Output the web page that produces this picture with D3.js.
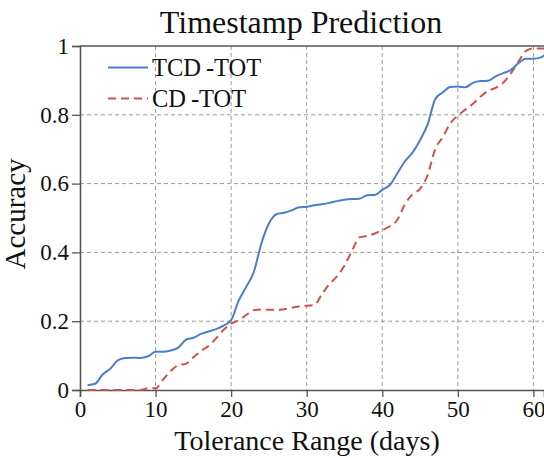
<!DOCTYPE html>
<html>
<head>
<meta charset="utf-8">
<script src="https://cdn.jsdelivr.net/npm/d3@7"></script>
<style>
  body { margin: 0; background: #fff; }
</style>
</head>
<body>
<svg id="chart" width="544" height="458"></svg>
<script>
// tolerance range in days
let days = d3.range(1, 63);

// TCD-TOT accuracy, day 1..62
let tcdTot = [0.014, 0.018, 0.045, 0.062, 0.086, 0.093, 0.094, 0.093, 0.098, 0.111,
  0.111, 0.115, 0.123, 0.146, 0.152, 0.163, 0.170, 0.177, 0.187, 0.203,
  0.260, 0.300, 0.343, 0.426, 0.484, 0.511, 0.515, 0.522, 0.531, 0.533,
  0.537, 0.540, 0.544, 0.549, 0.553, 0.555, 0.556, 0.566, 0.567, 0.582,
  0.596, 0.630, 0.665, 0.690, 0.726, 0.772, 0.845, 0.865, 0.881, 0.882,
  0.880, 0.893, 0.898, 0.899, 0.912, 0.921, 0.930, 0.950, 0.963, 0.963,
  0.967, 0.985];

// CD-TOT accuracy, day 1..62
let cdTot = [0, 0, 0, 0, 0, 0, 0, 0, 0.005, 0.005,
  0.030, 0.055, 0.072, 0.076, 0.095, 0.113, 0.128, 0.150, 0.175, 0.193,
  0.203, 0.218, 0.232, 0.234, 0.233, 0.233, 0.235, 0.239, 0.243, 0.245,
  0.247, 0.278, 0.308, 0.330, 0.362, 0.405, 0.444, 0.448, 0.455, 0.465,
  0.476, 0.495, 0.540, 0.569, 0.585, 0.625, 0.700, 0.735, 0.775, 0.798,
  0.815, 0.832, 0.853, 0.870, 0.878, 0.893, 0.920, 0.954, 0.985, 0.993,
  0.993, 0.993];

let xTicks = [0, 10, 20, 30, 40, 50, 60];
let yTicks = [0, 0.2, 0.4, 0.6, 0.8, 1];

let serif = '"Liberation Serif"';

let svg = d3.select('#chart');

let mLeft = 80, mRight = 544, mTop = 46, mBottom = 390;

let x = d3.scaleLinear().domain([0, 61.4]).range([mLeft, mRight]);
let y = d3.scaleLinear().domain([0, 1]).range([mBottom, mTop]);

// grid
svg.append('g')
  .selectAll('line')
  .data(xTicks.filter(d => d > 0))
  .enter()
  .append('line')
  .attr('x1', d => x(d)).attr('x2', d => x(d))
  .attr('y1', mTop).attr('y2', mBottom)
  .attr('stroke', '#9a9a9a').attr('stroke-width', 1)
  .attr('stroke-dasharray', '4,3');

svg.append('g')
  .selectAll('line')
  .data(yTicks.filter(d => d > 0 && d < 1))
  .enter()
  .append('line')
  .attr('x1', mLeft).attr('x2', mRight)
  .attr('y1', d => y(d)).attr('y2', d => y(d))
  .attr('stroke', '#9a9a9a').attr('stroke-width', 1)
  .attr('stroke-dasharray', '4,3');

// axes
let xAxis = svg.append('g')
  .attr('transform', `translate(0,${mBottom})`)
  .call(d3.axisBottom(x).tickValues(xTicks).tickSize(7).tickPadding(4).tickFormat(d3.format('d')));

let yAxis = svg.append('g')
  .attr('transform', `translate(${mLeft},0)`)
  .call(d3.axisLeft(y).tickValues(yTicks).tickSize(8).tickPadding(3).tickFormat(d => d === 0 || d === 1 ? d : d3.format('.1f')(d)));

[xAxis, yAxis].forEach(a => {
  a.attr('font-family', null).attr('font-size', null);
  a.select('.domain').attr('stroke', '#555').attr('stroke-width', 1.6);
  a.selectAll('.tick line').attr('stroke', '#555').attr('stroke-width', 1.3);
  a.selectAll('.tick text')
    .style('font-family', serif)
    .style('font-size', '23px')
    .attr('fill', '#111');
});

// top spine
svg.append('line')
  .attr('x1', mLeft).attr('x2', mRight)
  .attr('y1', mTop).attr('y2', mTop)
  .attr('stroke', '#555').attr('stroke-width', 1.6);

// lines
let line = (vals) => d3.line()
  .x((d, i) => x(days[i]))
  .y(d => y(d))
  .curve(d3.curveMonotoneX)(vals);

svg.append('path')
  .attr('d', line(cdTot))
  .attr('fill', 'none')
  .attr('stroke', '#d05050')
  .attr('stroke-width', 2)
  .attr('stroke-dasharray', '8,5');

svg.append('path')
  .attr('d', line(tcdTot))
  .attr('fill', 'none')
  .attr('stroke', '#4a7fc7')
  .attr('stroke-width', 2);

// title and labels
svg.append('text')
  .attr('x', 301).attr('y', 33)
  .attr('text-anchor', 'middle')
  .attr('fill', '#111')
  .style('font-family', serif)
  .style('font-size', '32px')
  .text('Timestamp Prediction');

svg.append('text')
  .attr('x', 307).attr('y', 450)
  .attr('text-anchor', 'middle')
  .attr('fill', '#111')
  .style('font-family', serif)
  .style('font-size', '28px')
  .text('Tolerance Range (days)');

svg.append('text')
  .attr('transform', 'translate(25,214) rotate(-90)')
  .attr('text-anchor', 'middle')
  .attr('fill', '#111')
  .style('font-family', serif)
  .style('font-size', '29px')
  .text('Accuracy');

// legend
let legend = [
  { name: 'TCD\u2009-TOT', color: '#4a7fc7', dash: null },
  { name: 'CD\u2009-TOT', color: '#d05050', dash: '8,5' }
];

legend.forEach((l, i) => {
  let ly = 67.5 + i * 31;
  svg.append('line')
    .attr('x1', 108).attr('x2', 148)
    .attr('y1', ly).attr('y2', ly)
    .attr('stroke', l.color).attr('stroke-width', 2)
    .attr('stroke-dasharray', l.dash);
  svg.append('text')
    .attr('x', 152).attr('y', ly + 8)
    .attr('fill', '#111')
    .style('font-family', serif)
    .style('font-size', '24.5px')
    .text(l.name);
});
</script>
</body>
</html>
